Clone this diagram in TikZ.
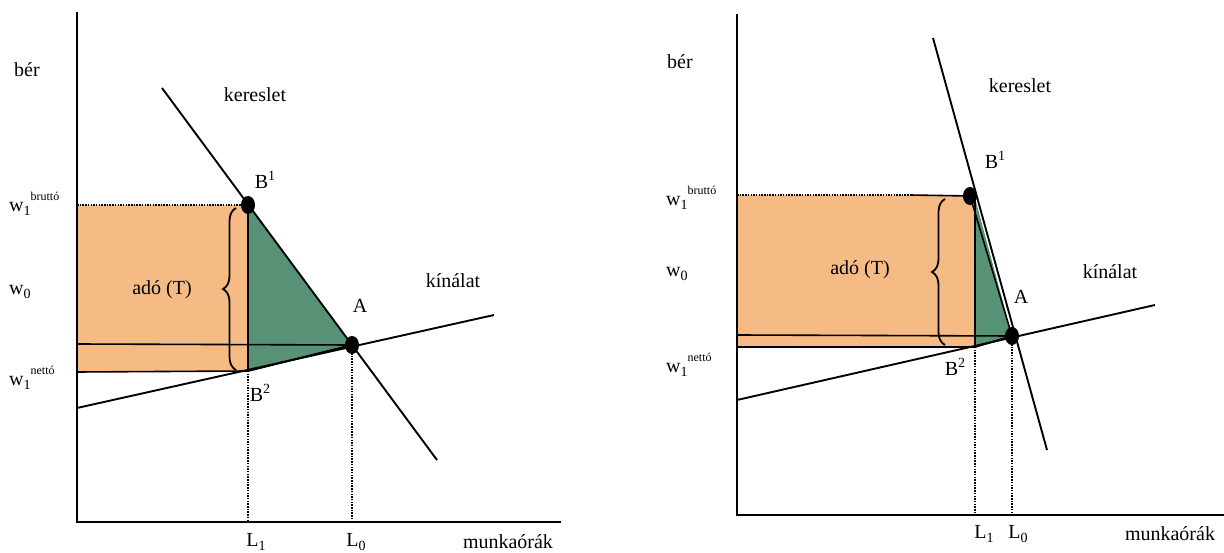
\documentclass[tikz,border=0pt]{standalone}
\usepackage{fontspec}
\setmainfont{Liberation Serif}
\usetikzlibrary{decorations.pathreplacing,shapes.geometric}
\definecolor{taxorange}{RGB}{246,187,133}
\definecolor{lossgreen}{RGB}{88,146,118}
\tikzset{
  ax/.style={line width=2pt},
  curve/.style={line width=1.9pt},
  thin/.style={line width=1.6pt},
  guide/.style={line width=2pt, dash pattern=on 1.5pt off 1.2pt},
  dot/.style={ellipse, fill=black, minimum width=14pt, minimum height=18pt, inner sep=0pt},
  lab/.style={font=\fontsize{20}{22}\selectfont, inner sep=0pt},
  brc/.style={line width=1.8pt, decorate, decoration={brace, amplitude=13pt}},
}
\newcommand{\wlab}[1]{w\raisebox{-0.5ex}{\fontsize{14}{14}\selectfont 1}\raisebox{1.2ex}{\fontsize{12}{12}\selectfont #1}}
\newcommand{\wzero}{w\raisebox{-0.5ex}{\fontsize{14}{14}\selectfont 0}}
\newcommand{\supn}[1]{\raisebox{0.8ex}{\fontsize{14}{14}\selectfont #1}}
\newcommand{\subn}[1]{\raisebox{-0.5ex}{\fontsize{14}{14}\selectfont #1}}
\begin{document}
\begin{tikzpicture}[x=1pt,y=-1pt]
\useasboundingbox (0,0) rectangle (1224,553);
% ================= LEFT PANEL =================
\coordinate (lO) at (77,522);
\coordinate (lYtop) at (77,12);
\coordinate (lXend) at (561,522);
\coordinate (lB1) at (248,205);
\coordinate (lA) at (352,345);
\coordinate (lB2) at (248,371);
\coordinate (lD1) at (162,88);
\coordinate (lD2) at (437,460);
\coordinate (lS1) at (77,408);
\coordinate (lS2) at (494,315);
\fill[taxorange] (77,205) rectangle (lB2);
\fill[lossgreen] (lB1) -- (lA) -- (lB2) -- cycle;
\draw[ax] (lYtop) -- (lO) -- (lXend);
\draw[guide] (77,205) -- (lB1);
\draw[thin] (77,344) -- (lA);
\draw[thin] (77,372) -- (lB2);
\draw[curve] (lB1) -- (lB2);
\draw[curve] (lB2) -- (lA);
\draw[guide] (lB2) -- (248,522);
\draw[guide] (lA) -- (352,522);
\draw[curve] (lD1) -- (lD2);
\draw[curve] (lS1) -- (lS2);
\draw[brc] (236,370) -- (236,208);
\node[dot] (lB1dot) at (lB1) {};
\node[dot] (lAdot) at (lA) {};
\node[lab] at (27,70) {bér};
\node[lab] at (255,95) {kereslet};
\node[lab] at (453,281) {kínálat};
\node[lab] at (162,290) {adó (T)};
\node[lab] at (265,180) {B\supn{1}};
\node[lab] at (360,306) {A};
\node[lab] at (260,393) {B\supn{2}};
\node[lab, anchor=west] at (9,204) {\wlab{bruttó}};
\node[lab, anchor=west] at (9,292) {\wzero};
\node[lab, anchor=west] at (9,378) {\wlab{nettó}};
\node[lab] at (256,542) {L\subn{1}};
\node[lab] at (356,542) {L\subn{0}};
\node[lab] at (508,542) {munkaórák};
% ================= RIGHT PANEL =================
\coordinate (rO) at (737,515);
\coordinate (rYtop) at (737,14);
\coordinate (rXend) at (1224,515);
\coordinate (rB1) at (970,196);
\coordinate (rA) at (1012,336);
\coordinate (rB2) at (975,347);
\coordinate (rD1) at (933,38);
\coordinate (rD2) at (1047,450);
\coordinate (rS1) at (737,400);
\coordinate (rS2) at (1155,305);
\fill[taxorange] (737,195) rectangle (rB2);
\fill[lossgreen] (975,198) -- (rA) -- (rB2) -- cycle;
\draw[ax] (rYtop) -- (rO) -- (rXend);
\draw[guide] (737,195) -- (910,195);
\draw[thin] (910,195) -- (rB1);
\draw[thin] (737,335) -- (rA);
\draw[thin] (737,347) -- (rB2);
\draw[curve] (975,198) -- (rB2);
\draw[curve] (rB2) -- (rA);
\draw[thin] (rB1) -- (rA);
\draw[guide] (rB2) -- (975,515);
\draw[guide] (rA) -- (1012,515);
\draw[curve] (rD1) -- (rD2);
\draw[curve] (rS1) -- (rS2);
\draw[brc] (945,345) -- (945,199);
\node[dot] (rB1dot) at (rB1) {};
\node[dot] (rAdot) at (rA) {};
\node[lab] at (680,62) {bér};
\node[lab] at (1020,86) {kereslet};
\node[lab] at (1110,272) {kínálat};
\node[lab] at (860,270) {adó (T)};
\node[lab] at (995,160) {B\supn{1}};
\node[lab] at (1021,297) {A};
\node[lab] at (955,367) {B\supn{2}};
\node[lab, anchor=west] at (666,198) {\wlab{bruttó}};
\node[lab, anchor=west] at (666,274) {\wzero};
\node[lab, anchor=west] at (666,365) {\wlab{nettó}};
\node[lab] at (984,534) {L\subn{1}};
\node[lab] at (1018,534) {L\subn{0}};
\node[lab] at (1170,534) {munkaórák};
\end{tikzpicture}
\end{document}
